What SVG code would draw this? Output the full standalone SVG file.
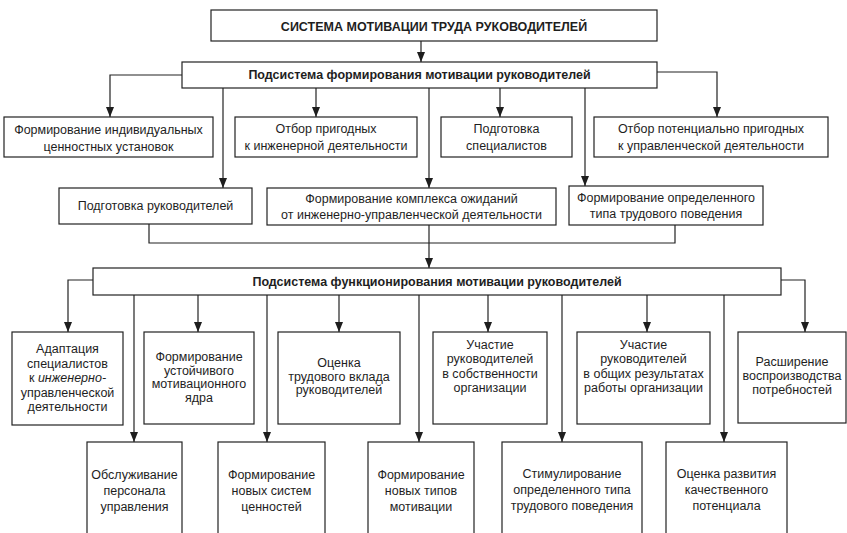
<svg xmlns="http://www.w3.org/2000/svg" width="847" height="533" viewBox="0 0 847 533">
<defs>
<marker id="ah" markerUnits="userSpaceOnUse" markerWidth="10" markerHeight="8" refX="10" refY="4" orient="auto" viewBox="0 0 10 8">
<path d="M0,0 L10,4 L0,8 Z" fill="#1e1e1e"/>
</marker>
<style>
.b{fill:#fff;stroke:#222;stroke-width:1.2}
.c{fill:none;stroke:#222;stroke-width:1.2}
.a{fill:none;stroke:#222;stroke-width:1.2;marker-end:url(#ah)}
text{font-family:"Liberation Sans",Arial,sans-serif;font-size:12.5px;fill:#1e1e1e;text-anchor:middle}
.h{font-weight:bold;font-size:12.5px}
</style>
</defs>
<rect width="847" height="533" fill="#fff"/>
<g id="connectors">
<path class="a" d="M421,41 V62"/>
<path class="a" d="M182,75 H110 V117"/>
<path class="a" d="M223,88 V188"/>
<path class="a" d="M316,88 V117"/>
<path class="a" d="M429,88 V188"/>
<path class="a" d="M500,88 V117"/>
<path class="a" d="M585,88 V186"/>
<path class="a" d="M657,72 H717 V117"/>
<path class="c" d="M149,224 V243 H675 V225"/>
<path class="a" d="M429,225 V268"/>
<path class="a" d="M93,280 H68 V332"/>
<path class="a" d="M134,295 V442"/>
<path class="a" d="M198,295 V332"/>
<path class="a" d="M267,295 V442"/>
<path class="a" d="M339,295 V332"/>
<path class="a" d="M419,295 V442"/>
<path class="a" d="M488,295 V332"/>
<path class="a" d="M562,295 V442"/>
<path class="a" d="M647,295 V332"/>
<path class="a" d="M724,295 V442"/>
<path class="a" d="M781,280 H805 V332"/>
</g>
<g id="top"><rect class="b" x="211" y="10" width="446" height="31"/><text class="h" x="434" y="31">СИСТЕМА МОТИВАЦИИ ТРУДА РУКОВОДИТЕЛЕЙ</text></g>
<g id="sub1"><rect class="b" x="182" y="62" width="475" height="26"/><text class="h" x="419.5" y="79">Подсистема формирования мотивации руководителей</text></g>
<g id="n1"><rect class="b" x="4" y="117" width="209" height="40"/><text x="108.5" y="134">Формирование индивидуальных</text><text x="108.5" y="151">ценностных установок</text></g>
<g id="n2"><rect class="b" x="235" y="117" width="182" height="40"/><text x="326" y="133">Отбор пригодных</text><text x="326" y="150">к инженерной деятельности</text></g>
<g id="n3"><rect class="b" x="441" y="117" width="131" height="40"/><text x="506.5" y="133">Подготовка</text><text x="506.5" y="150">специалистов</text></g>
<g id="n4"><rect class="b" x="594" y="117" width="234" height="40"/><text x="711" y="133">Отбор потенциально пригодных</text><text x="711" y="150">к управленческой деятельности</text></g>
<g id="n5"><rect class="b" x="59" y="188" width="193" height="36"/><text x="155.5" y="210">Подготовка руководителей</text></g>
<g id="n6"><rect class="b" x="267" y="188" width="289" height="37"/><text x="411.5" y="203">Формирование комплекса ожиданий</text><text x="411.5" y="219">от инженерно-управленческой деятельности</text></g>
<g id="n7"><rect class="b" x="569" y="186" width="194" height="39"/><text x="666" y="202">Формирование определенного</text><text x="666" y="218">типа трудового поведения</text></g>
<g id="sub2"><rect class="b" x="93" y="268" width="688" height="27"/><text class="h" x="437" y="286">Подсистема функционирования мотивации руководителей</text></g>
<g id="n8"><rect class="b" x="12" y="332" width="111" height="93"/><text x="67.5" y="353">Адаптация</text><text x="67.5" y="368">специалистов</text><text x="67.5" y="382">к <tspan font-style="italic">инженерно-</tspan></text><text x="67.5" y="397">управленческой</text><text x="67.5" y="411">деятельности</text></g>
<g id="n9"><rect class="b" x="144" y="332" width="110" height="92"/><text x="199" y="361">Формирование</text><text x="199" y="375">устойчивого</text><text x="199" y="388">мотивационного</text><text x="199" y="402">ядра</text></g>
<g id="n10"><rect class="b" x="278" y="332" width="122" height="92"/><text x="339" y="367">Оценка</text><text x="339" y="381">трудового вклада</text><text x="339" y="394">руководителей</text></g>
<g id="n11"><rect class="b" x="433" y="332" width="114" height="92"/><text x="490" y="349">Участие</text><text x="490" y="363">руководителей</text><text x="490" y="378">в собственности</text><text x="490" y="392">организации</text></g>
<g id="n12"><rect class="b" x="577" y="332" width="133" height="92"/><text x="643.5" y="349">Участие</text><text x="643.5" y="363">руководителей</text><text x="643.5" y="378">в общих результатах</text><text x="643.5" y="392">работы организации</text></g>
<g id="n13"><rect class="b" x="738" y="332" width="108" height="91"/><text x="792" y="366">Расширение</text><text x="792" y="380">воспроизводства</text><text x="792" y="394">потребностей</text></g>
<g id="n14"><rect class="b" x="87" y="442" width="95" height="100"/><text x="134.5" y="479">Обслуживание</text><text x="134.5" y="495">персонала</text><text x="134.5" y="511">управления</text></g>
<g id="n15"><rect class="b" x="218" y="442" width="107" height="100"/><text x="271.5" y="479">Формирование</text><text x="271.5" y="495">новых систем</text><text x="271.5" y="511">ценностей</text></g>
<g id="n16"><rect class="b" x="368" y="442" width="106" height="100"/><text x="421" y="479">Формирование</text><text x="421" y="495">новых типов</text><text x="421" y="511">мотивации</text></g>
<g id="n17"><rect class="b" x="502" y="442" width="140" height="100"/><text x="572" y="478">Стимулирование</text><text x="572" y="494">определенного типа</text><text x="572" y="510">трудового поведения</text></g>
<g id="n18"><rect class="b" x="666" y="442" width="121" height="100"/><text x="726.5" y="478">Оценка развития</text><text x="726.5" y="494">качественного</text><text x="726.5" y="510">потенциала</text></g>
</svg>
